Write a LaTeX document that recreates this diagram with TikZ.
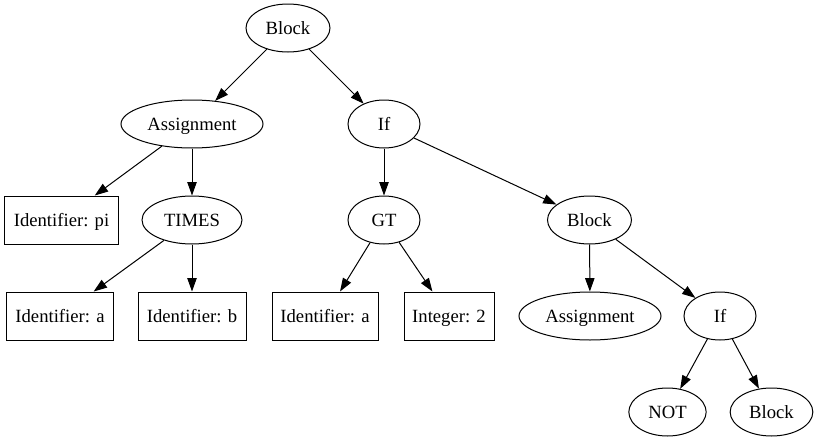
\documentclass[tikz,border=0pt]{standalone}
\usepackage{fontspec}
\setmainfont{Liberation Serif}
\usetikzlibrary{shapes.geometric,arrows.meta}
\begin{document}
\begin{tikzpicture}[x=0.75pt,y=-0.75pt,
  every node/.style={font=\fontsize{14}{16}\selectfont, inner sep=0pt, line width=0.75pt, text height=9pt, text depth=0pt},
  ell/.style={draw, ellipse, minimum height=36pt},
  box/.style={draw, rectangle, minimum height=36pt},
  edge/.style={line width=0.75pt, -{Triangle[length=10pt,width=7pt]}}]
\useasboundingbox (0,0) rectangle (819,443);
\node[ell, minimum width=63pt] (b1) at (288,28) {Block};
\node[ell, minimum width=106.5pt] (as1) at (192,124) {Assignment};
\node[ell, minimum width=54pt] (if1) at (384,124) {If};
\node[box, minimum width=85pt] (idpi) at (61.5,220) {Identifier: pi};
\node[ell, minimum width=75pt] (times) at (192,220) {TIMES};
\node[ell, minimum width=54pt] (gt) at (384,220) {GT};
\node[ell, minimum width=63pt] (b2) at (589.5,220) {Block};
\node[box, minimum width=80pt] (ida) at (60,316) {Identifier: a};
\node[box, minimum width=81pt] (idb) at (192,316) {Identifier: b};
\node[box, minimum width=79.5pt] (ida2) at (325,316) {Identifier: a};
\node[box, minimum width=67.5pt] (int2) at (449,316) {Integer: 2};
\node[ell, minimum width=106.5pt] (as2) at (590,316) {Assignment};
\node[ell, minimum width=54pt] (if2) at (720,316) {If};
\node[ell, minimum width=58pt] (not) at (667.5,412) {NOT};
\node[ell, minimum width=62pt] (b3) at (771.5,412) {Block};
\draw[edge] (b1) -- (as1);
\draw[edge] (b1) -- (if1);
\draw[edge] (as1) -- (idpi);
\draw[edge] (as1) -- (times);
\draw[edge] (times) -- (ida);
\draw[edge] (times) -- (idb);
\draw[edge] (if1) -- (gt);
\draw[edge] (if1) -- (b2);
\draw[edge] (gt) -- (ida2);
\draw[edge] (gt) -- (int2);
\draw[edge] (b2) -- (as2);
\draw[edge] (b2) -- (if2);
\draw[edge] (if2) -- (not);
\draw[edge] (if2) -- (b3);
\end{tikzpicture}
\end{document}
